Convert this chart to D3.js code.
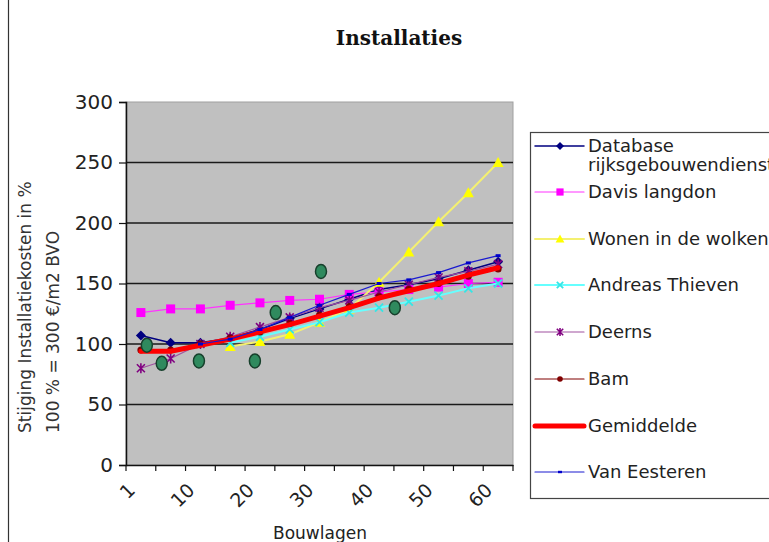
<!DOCTYPE html>
<html><head><meta charset="utf-8">
<script src="https://cdn.jsdelivr.net/npm/d3@7"></script>
<style>body{margin:0;background:#fff;} svg{display:block;}</style>
</head><body><svg id="c" width="769" height="542"></svg>
<script>
const categories = ["1","5","10","15","20","25","30","35","40","45","50","55","60"];
const tickLabels = ["1","10","20","30","40","50","60"];
const yTicks = [0,50,100,150,200,250,300];
const databaseRgd = [107,101,101,105,112,121,129,137,145,149,154,161,168];
const davisLangdon = [126,129,129,132,134,136,137,141,143,145,147,150,151];
const wonenInDeWolken = [null,null,null,98,102,108,118,129,151,176,201,225,250];
const andreasThieven = [null,null,null,101,106,112,118,126,130,135,140,146,150];
const deerns = [80,88,100,106,114,122,130,136,143,149,155,160,166];
const bam = [95,95,100,105,110,117,124,131,139,145,150,156,162];
const gemiddelde = [94,94,99,104,110,116,123,130,138,144,150,157,163];
const vanEesteren = [null,null,100,104,112,122,132,141,150,153,159,167,173];
const extraPosIdx = [0.2,0.7,1.95,3.83,4.53,6.05,8.53];
const extraVals = [99,84,86,86,126,160,130];

const series = [
  {name:"Database rijksgebouwendienst", values:databaseRgd, color:"#000080", width:1.5, marker:"diamond", mcolor:"#000080"},
  {name:"Davis langdon", values:davisLangdon, color:"#ff33ff", width:1.2, marker:"square", mcolor:"#ff00ff"},
  {name:"Wonen in de wolken", values:wonenInDeWolken, color:"#f4f070", width:2, marker:"triangle", mcolor:"#ffff00"},
  {name:"Andreas Thieven", values:andreasThieven, color:"#66ffff", width:2, marker:"x", mcolor:"#33e6e6"},
  {name:"Deerns", values:deerns, color:"#a050a0", width:1.2, marker:"star", mcolor:"#800080"},
  {name:"Bam", values:bam, color:"#800000", width:1.2, marker:"circle", mcolor:"#800000"},
  {name:"Gemiddelde", values:gemiddelde, color:"#ff0000", width:5, marker:null, mcolor:"#ff0000"},
  {name:"Van Eesteren", values:vanEesteren, color:"#1a1ad0", width:1.2, marker:"dash", mcolor:"#0000cc"}
];

const svg = d3.select("#c");
const L=126, R=513, T=102, B=465;
const x = d3.scaleBand().domain(categories).range([L,R]).paddingInner(0).paddingOuter(0);
const xi = d3.scaleLinear().domain([0, categories.length-1]).range([x(categories[0])+x.bandwidth()/2, x(categories[categories.length-1])+x.bandwidth()/2]);
const y = d3.scaleLinear().domain([0,300]).range([B,T]);

svg.append("line").attr("x1",8.5).attr("x2",8.5).attr("y1",0).attr("y2",542).attr("stroke","#333").attr("stroke-width",1.2);

svg.append("text").attr("x",399).attr("y",45).attr("text-anchor","middle")
  .attr("font-family","DejaVu Serif").attr("font-weight","bold").attr("font-size",20).attr("fill","#111").text("Installaties");

svg.append("rect").attr("x",L).attr("y",T).attr("width",R-L).attr("height",B-T).attr("fill","#c0c0c0").attr("stroke","#a0a0a0").attr("stroke-width",1);

svg.append("g").selectAll("line").data(yTicks.filter(d=>d>0 && d<300)).join("line")
  .attr("x1",L).attr("x2",R).attr("y1",d=>y(d)).attr("y2",d=>y(d)).attr("stroke","#1a1a1a").attr("stroke-width",1.6);

const yAxis = d3.axisLeft(y).tickValues(yTicks).tickSize(7).tickPadding(6);
const gy = svg.append("g").attr("transform",`translate(${L},0)`).call(yAxis);
gy.select(".domain").attr("stroke","#111").attr("stroke-width",1.5);
gy.selectAll(".tick line").attr("stroke","#111").attr("stroke-width",1.2);
gy.selectAll("text").attr("font-family","DejaVu Sans").attr("font-size",20).attr("fill","#222");

const xAxis = d3.axisBottom(x).tickSize(0).tickFormat("");
const gx = svg.append("g").attr("transform",`translate(0,${B})`).call(xAxis);
gx.select(".domain").attr("stroke","#111").attr("stroke-width",1.5);
const bounds = categories.map(c=>x(c)).concat([R]);
svg.append("g").selectAll("line").data(bounds).join("line")
  .attr("x1",d=>d).attr("x2",d=>d).attr("y1",B).attr("y2",B+6).attr("stroke","#111").attr("stroke-width",1.2);
svg.append("g").selectAll("text").data(tickLabels).join("text")
  .attr("transform",d=>`translate(${x(d)+x.bandwidth()/2-14},${B+17}) rotate(-45)`)
  .attr("text-anchor","end").attr("dy","0.7em")
  .attr("font-family","DejaVu Sans").attr("font-size",19).attr("fill","#222").text(d=>d);

svg.append("text").attr("x",320).attr("y",539).attr("text-anchor","middle")
  .attr("font-family","DejaVu Sans").attr("font-size",17).attr("fill","#222").text("Bouwlagen");
const yt = svg.append("g").attr("transform","translate(0,433) rotate(-90)");
yt.append("text").attr("x",0).attr("y",31).attr("font-family","DejaVu Sans").attr("font-size",17).attr("fill","#333").text("Stijging Installatiekosten in %");
yt.append("text").attr("x",0).attr("y",59).attr("font-family","DejaVu Sans").attr("font-size",17).attr("fill","#333").text("100 % = 300 €/m2 BVO");

function drawMarker(g, type, cx, cy, color, s) {
  s = s||1;
  if(type==="diamond") g.append("path").attr("d",`M${cx},${cy-5*s}L${cx+5*s},${cy}L${cx},${cy+5*s}L${cx-5*s},${cy}Z`).attr("fill",color);
  else if(type==="square") g.append("rect").attr("x",cx-4.5*s).attr("y",cy-4.5*s).attr("width",9*s).attr("height",9*s).attr("fill",color);
  else if(type==="triangle") g.append("path").attr("d",`M${cx},${cy-5.5*s}L${cx+5.5*s},${cy+4.5*s}L${cx-5.5*s},${cy+4.5*s}Z`).attr("fill",color);
  else if(type==="x") g.append("path").attr("d",`M${cx-4*s},${cy-4*s}L${cx+4*s},${cy+4*s}M${cx+4*s},${cy-4*s}L${cx-4*s},${cy+4*s}`).attr("stroke",color).attr("stroke-width",1.8);
  else if(type==="star") g.append("path").attr("d",`M${cx-4*s},${cy-4*s}L${cx+4*s},${cy+4*s}M${cx+4*s},${cy-4*s}L${cx-4*s},${cy+4*s}M${cx},${cy-5*s}L${cx},${cy+5*s}`).attr("stroke",color).attr("stroke-width",1.6);
  else if(type==="circle") g.append("circle").attr("cx",cx).attr("cy",cy).attr("r",3.5*s).attr("fill",color);
  else if(type==="dash") g.append("rect").attr("x",cx-2.5*s).attr("y",cy-1.5*s).attr("width",5*s).attr("height",3*s).attr("fill",color);
}

const line = d3.line().defined(d=>d.v!=null).x(d=>xi(d.i)).y(d=>y(d.v));
const gs = svg.append("g");
series.forEach(s=>{
  const pts = s.values.map((v,i)=>({i,v}));
  gs.append("path").datum(pts).attr("d",line).attr("fill","none").attr("stroke",s.color).attr("stroke-width",s.width).attr("stroke-linejoin","round").attr("stroke-linecap","round");
  if(s.marker){
    const mg = gs.append("g");
    pts.filter(d=>d.v!=null).forEach(d=>drawMarker(mg,s.marker,xi(d.i),y(d.v),s.mcolor));
  }
});

svg.append("g").selectAll("ellipse").data(extraVals).join("ellipse")
  .attr("cx",(d,i)=>xi(extraPosIdx[i])).attr("cy",d=>y(d)).attr("rx",5.5).attr("ry",7)
  .attr("fill","#2f8a5e").attr("stroke","#17402c").attr("stroke-width",1.5);

const lg = svg.append("g");
lg.append("rect").attr("x",530.5).attr("y",132.5).attr("width",300).attr("height",366).attr("fill","#fff").attr("stroke","#444").attr("stroke-width",1.2);
const legY = [146,192,239,285,332,379,426,472];
const lf = 18;
series.forEach((s,k)=>{
  const yy = legY[k];
  lg.append("line").attr("x1",535).attr("x2",584).attr("y1",yy).attr("y2",yy).attr("stroke",s.color).attr("stroke-width",s.width).attr("stroke-linecap","round");
  if(s.marker) drawMarker(lg,s.marker,560,yy,s.mcolor,0.8);
  if(k===0){
    lg.append("text").attr("x",588).attr("y",yy+6).attr("font-family","DejaVu Sans").attr("font-size",lf).attr("fill","#222").text("Database");
    lg.append("text").attr("x",588).attr("y",yy+25).attr("font-family","DejaVu Sans").attr("font-size",lf).attr("fill","#222").text("rijksgebouwendienst");
  } else {
    lg.append("text").attr("x",588).attr("y",yy+6).attr("font-family","DejaVu Sans").attr("font-size",lf).attr("fill","#222").text(s.name);
  }
});
</script></body></html>
